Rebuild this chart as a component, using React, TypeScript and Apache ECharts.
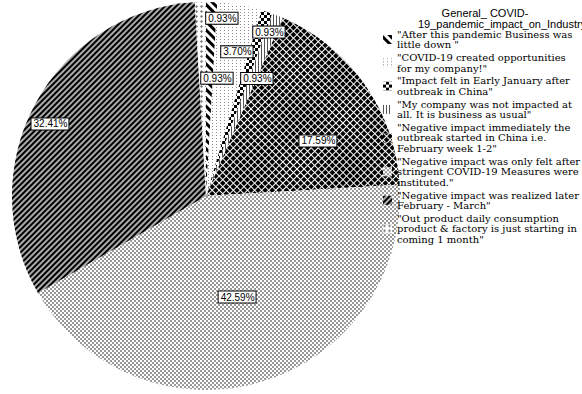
import React, { useEffect, useRef } from "react";
import * as echarts from "echarts";

const legendLines: string[][] = [
  ['"After this pandemic Business was', 'little down "'],
  ['"COVID-19 created opportunities', 'for my company!"'],
  ['"Impact felt in Early January after', 'outbreak in China"'],
  ['"My company was not impacted at', 'all. It is business as usual"'],
  ['"Negative impact immediately the', 'outbreak started in China i.e.', 'February week 1-2"'],
  ['"Negative impact was only felt after', 'stringent COVID-19 Measures were', 'instituted."'],
  ['"Negative impact was realized later', 'February - March"'],
  ['"Out product daily consumption', 'product & factory is just starting in', 'coming 1 month"'],
];
const categories: string[] = legendLines.map((l) => l.join(" "));
// counts (read from percentages: n / 108)
const counts: number[] = [1, 4, 1, 1, 19, 46, 35, 1];

// label placement: [angle deg clockwise from top, radius fraction]
const labelPolar: number[][] = [
  [5.3, 0.61],
  [12.1, 0.76],
  [23.4, 0.66],
  [21.0, 0.905],
  [63.8, 0.643],
  [162.9, 0.545],
  [294.8, 0.886],
  [5.1, 0.92],
];

const CX = 206;
const CY = 196;
const R = 194;

const decals: any[] = [
  { symbol: "rect", symbolSize: 1, color: "#000", dashArrayX: [1, 0], dashArrayY: [3, 3], rotation: Math.PI / 4 },
  { symbol: "rect", symbolSize: 1, color: "#8a8a8a", dashArrayX: [1, 3], dashArrayY: [1, 2] },
  { symbol: "rect", symbolSize: 1, color: "#000", dashArrayX: [[3, 3], [0, 3, 3, 0]], dashArrayY: [3, 0] },
  { symbol: "rect", symbolSize: 1, color: "#555", dashArrayX: [1, 2], dashArrayY: [1, 0] },
  { symbol: "rect", symbolSize: 1, color: "#000", dashArrayX: [4, 1], dashArrayY: [4, 1], rotation: Math.PI / 4 },
  { symbol: "rect", symbolSize: 1, color: "#999", dashArrayX: [[2, 2], [0, 2, 2, 0]], dashArrayY: [2, 0] },
  { symbol: "rect", symbolSize: 1, color: "#000", dashArrayX: [1, 0], dashArrayY: [1.5, 1.5], rotation: -Math.PI / 4 },
  { symbol: "diamond", symbolSize: 1, color: "#777", dashArrayX: [3, 2], dashArrayY: [3, 2] },
];
const baseColors: string[] = ["#fff", "#fff", "#fff", "#fff", "#fff", "#fff", "#aaaaaa", "#fff"];

export default function App() {
  const ref = useRef<HTMLDivElement>(null);
  useEffect(() => {
    if (!ref.current) return;
    const chart = echarts.init(ref.current, null, { renderer: "svg" });
    const total = counts.reduce((a, b) => a + b, 0);
    const lineMap: Record<string, string> = {};
    categories.forEach((c, i) => (lineMap[c] = legendLines[i].join("\n")));
    chart.setOption({
      animation: false,
      backgroundColor: "#fff",
      title: [
        {
          text: "General_ COVID-",
          left: 480,
          top: 2,
          textAlign: "center",
          textStyle: { fontFamily: "Liberation Sans", fontSize: 11, fontWeight: "normal", color: "#000" },
        },
        {
          text: "19_pandemic_impact_on_Industry",
          left: 413,
          top: 13,
          textStyle: { fontFamily: "Liberation Sans", fontSize: 11, fontWeight: "normal", color: "#000" },
        },
      ],
      legend: {
        orient: "vertical",
        left: 383,
        top: 29,
        icon: "rect",
        itemWidth: 9,
        itemHeight: 9,
        itemGap: 2.3,
        padding: 0,
        selectedMode: false,
        data: categories,
        formatter: (name: string) => lineMap[name],
        textStyle: { fontFamily: "DejaVu Serif", fontSize: 10, lineHeight: 10.5, color: "#000" },
      },
      series: [
        {
          type: "pie",
          center: [CX, CY],
          radius: R,
          startAngle: 90,
          clockwise: true,
          avoidLabelOverlap: false,
          silent: true,
          data: categories.map((name, i) => ({
            name,
            value: counts[i],
            itemStyle: { color: baseColors[i], decal: decals[i], borderWidth: 0 },
          })),
          label: {
            show: true,
            position: "inside",
            formatter: (p: any) => ((p.value / total) * 100).toFixed(2) + "%",
            fontFamily: "Liberation Sans",
            fontSize: 10,
            color: "#000",
            backgroundColor: "#fff",
            borderColor: "#000",
            borderWidth: 1,
            padding: [1, 1, 0, 2],
          },
          labelLine: { show: false },
          labelLayout: (p: any) => {
            const [a, f] = labelPolar[p.dataIndex];
            const rad = (a * Math.PI) / 180;
            return {
              x: CX + Math.sin(rad) * f * R,
              y: CY - Math.cos(rad) * f * R,
              align: "center",
              verticalAlign: "middle",
            };
          },
        },
      ],
    });
    return () => chart.dispose();
  }, []);
  return <div ref={ref} style={{ position: "absolute", left: 0, top: 0, width: 582, height: 394 }} />;
}
